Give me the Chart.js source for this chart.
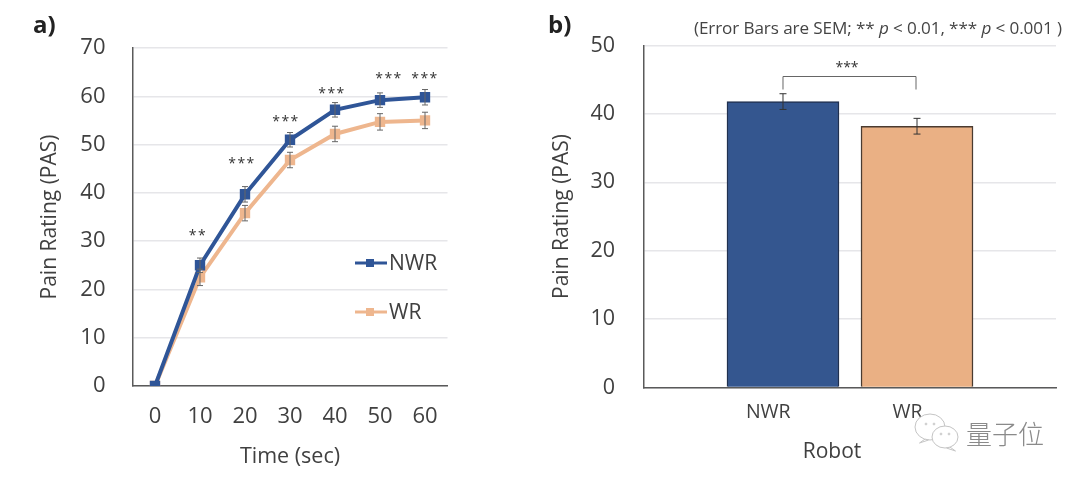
<!DOCTYPE html>
<html>
<head>
<meta charset="utf-8">
<script src="https://cdn.jsdelivr.net/npm/chart.js@4"></script>
<style>
html, body { margin: 0; padding: 0; background: #fff; }
body { width: 1080px; height: 481px; position: relative; overflow: hidden; font-family: "Open Sans", sans-serif; color: #404040; }
canvas { position: absolute; top: 0; }
.txt { position: absolute; white-space: nowrap; }
.panel { font-weight: 700; font-size: 24px; color: #222; line-height: 28px; }
.note { left: 694px; top: 18px; font-size: 17.1px; line-height: 20px; letter-spacing: -0.1px; color: #444; }
.mark { left: 966px; top: 416px; font-family: "Noto Sans CJK SC"; font-weight: 300; font-size: 26px; line-height: 34px; color: #8a8a8a; }
</style>
</head>
<body>
<canvas id="timeChart" width="540" height="481" style="left:0"></canvas>
<canvas id="robotChart" width="540" height="481" style="left:540px"></canvas>
<div class="txt panel" style="left:33px;top:10px">a)</div>
<div class="txt panel" style="left:548px;top:10px">b)</div>
<div class="txt note">(Error Bars are SEM; ** <i>p</i> &lt; 0.01, *** <i>p</i> &lt; 0.001 )</div>
<div class="txt mark">量子位</div>
<script>
const timeLabels = ['0', '10', '20', '30', '40', '50', '60'];
const nwrRatings = [0, 25, 39.7, 51, 57.2, 59.2, 59.8];
const wrRatings = [0, 22.5, 35.8, 46.8, 52.2, 54.7, 55];
const nwrErrors = [0, 1.5, 1.6, 1.5, 1.5, 1.5, 1.6];
const wrErrors = [0, 1.7, 1.6, 1.6, 1.6, 1.7, 1.7];
const starLabels = ['', '**', '***', '***', '***', '***', '***'];
const starHeights = [0, 31.7, 46.6, 55.3, 61.1, 64.2, 64.2];
const starShift = [0, -2, -3, -4, -3, 9, 0];

const robotLabels = ['NWR', 'WR'];
const robotRatings = [41.8, 38.2];
const robotErrors = [1.15, 1.15];
const robotLabelShift = [-0.11, -0.07];

const blue = '#2f5597';
const orange = '#eeb68e';
const axisColor = '#5a5a5a';
const gridColor = '#e6e6e9';
const textColor = '#404040';

function drawErrorBar(ctx, x, yTop, yBottom, cap) {
    ctx.beginPath();
    ctx.moveTo(x, yTop);
    ctx.lineTo(x, yBottom);
    ctx.moveTo(x - cap, yTop);
    ctx.lineTo(x + cap, yTop);
    ctx.moveTo(x - cap, yBottom);
    ctx.lineTo(x + cap, yBottom);
    ctx.stroke();
}

const timeOverlay = {
    id: 'timeOverlay',
    afterDatasetsDraw(chart) {
        const ctx = chart.ctx;
        const xScale = chart.scales.x;
        const yScale = chart.scales.y;
        ctx.save();

        ctx.strokeStyle = '#666';
        ctx.lineWidth = 1;
        [[nwrRatings, nwrErrors], [wrRatings, wrErrors]].forEach(([values, errors]) => {
            values.forEach((v, i) => {
                if (!errors[i]) return;
                drawErrorBar(ctx, xScale.getPixelForValue(i), yScale.getPixelForValue(v + errors[i]), yScale.getPixelForValue(v - errors[i]), 3);
            });
        });

        // significance stars
        ctx.fillStyle = '#333';
        ctx.font = '14px "Open Sans"';
        ctx.textAlign = 'center';
        ctx.textBaseline = 'middle';
        ctx.letterSpacing = '1.5px';
        starLabels.forEach((s, i) => {
            if (s) ctx.fillText(s, xScale.getPixelForValue(i) + starShift[i], yScale.getPixelForValue(starHeights[i]) + 3);
        });
        ctx.letterSpacing = '0px';

        // legend inside the plot
        [['NWR', blue, 263], ['WR', orange, 312]].forEach(([name, color, y]) => {
            ctx.strokeStyle = color;
            ctx.lineWidth = 3;
            ctx.beginPath();
            ctx.moveTo(355, y);
            ctx.lineTo(387, y);
            ctx.stroke();
            ctx.fillStyle = color;
            ctx.fillRect(366, y - 4, 8, 8);
            ctx.fillStyle = textColor;
            ctx.font = '21px "Open Sans"';
            ctx.textAlign = 'left';
            ctx.fillText(name, 389, y + 1);
        });
        ctx.restore();
    }
};

const robotOverlay = {
    id: 'robotOverlay',
    afterDatasetsDraw(chart) {
        const ctx = chart.ctx;
        const xScale = chart.scales.x;
        const yScale = chart.scales.y;
        ctx.save();

        ctx.strokeStyle = '#333';
        ctx.lineWidth = 1;
        robotRatings.forEach((v, i) => {
            drawErrorBar(ctx, xScale.getPixelForValue(i + 1), yScale.getPixelForValue(v + robotErrors[i]), yScale.getPixelForValue(v - robotErrors[i]), 3.5);
        });

        // bracket between the bars
        const x1 = xScale.getPixelForValue(1);
        const x2 = xScale.getPixelForValue(2) - 1;
        ctx.strokeStyle = '#666';
        ctx.beginPath();
        ctx.moveTo(x1, 89.5);
        ctx.lineTo(x1, 76.5);
        ctx.lineTo(x2, 76.5);
        ctx.lineTo(x2, 89.5);
        ctx.stroke();

        ctx.fillStyle = '#333';
        ctx.font = '14px "Open Sans"';
        ctx.textAlign = 'center';
        ctx.textBaseline = 'middle';
        ctx.fillText('***', 307, 68);

        ctx.fillStyle = textColor;
        ctx.font = '21px "Open Sans"';
        ctx.fillText('Robot', 292, 452);

        // wechat bubbles next to the watermark
        ctx.strokeStyle = '#c4c4c4';
        ctx.fillStyle = '#fff';
        ctx.lineWidth = 1;
        [[390, 427, 15, 13, -7], [405, 437, 13, 11, 7]].forEach(([cx, cy, rx, ry, tail]) => {
            ctx.beginPath();
            ctx.ellipse(cx, cy, rx, ry, 0, 0, Math.PI * 2);
            ctx.fill();
            ctx.stroke();
            ctx.beginPath();
            ctx.moveTo(cx + tail * 0.7, cy + ry - 1);
            ctx.lineTo(cx + tail * 1.5, cy + ry + 3);
            ctx.lineTo(cx + tail * 0.2, cy + ry);
            ctx.stroke();
            ctx.beginPath();
            ctx.arc(cx - 4, cy - 3, 0.9, 0, Math.PI * 2);
            ctx.moveTo(cx + 4.9, cy - 3);
            ctx.arc(cx + 4, cy - 3, 0.9, 0, Math.PI * 2);
            ctx.stroke();
        });
        ctx.restore();
    }
};

function ratingAxis(max, plotLeft, padding, titlePad, size) {
    return {
        min: 0,
        max: max,
        afterFit(scale) { scale.width = plotLeft; },
        border: { color: axisColor, width: 1.5 },
        grid: { color: gridColor, lineWidth: 1.5, drawTicks: false },
        ticks: { stepSize: 10, padding: padding, color: textColor, font: { family: 'Open Sans', size: size } },
        title: { display: true, text: 'Pain Rating (PAS)', color: textColor, padding: titlePad, font: { family: 'Open Sans', size: 21 } }
    };
}

new Chart(document.getElementById('timeChart'), {
    type: 'line',
    data: {
        labels: timeLabels,
        datasets: [
            { label: 'NWR', data: nwrRatings, borderColor: blue, backgroundColor: blue, borderWidth: 4, pointStyle: 'rect', pointRadius: 4.5, tension: 0 },
            { label: 'WR', data: wrRatings, borderColor: orange, backgroundColor: orange, borderWidth: 4, pointStyle: 'rect', pointRadius: 4.5, tension: 0 }
        ]
    },
    options: {
        responsive: false,
        animation: false,
        events: [],
        layout: { padding: { top: 48, right: 92.5, left: 0, bottom: 0 } },
        plugins: { legend: { display: false }, tooltip: { enabled: false } },
        scales: {
            x: {
                offset: true,
                afterFit(scale) { scale.height = 95; },
                border: { color: axisColor, width: 1.5 },
                grid: { display: false, drawTicks: false },
                ticks: { padding: 18, color: textColor, font: { family: 'Open Sans', size: 22 } },
                title: { display: true, text: 'Time (sec)', color: textColor, padding: { top: 10, bottom: 11 }, font: { family: 'Open Sans', size: 21.5 } }
            },
            y: ratingAxis(70, 132.5, 27, { top: 37, bottom: 0 }, 22)
        }
    },
    plugins: [timeOverlay]
});

new Chart(document.getElementById('robotChart'), {
    type: 'bar',
    data: {
        datasets: [{
            data: robotRatings.map((v, i) => ({ x: i + 1, y: v })),
            backgroundColor: ['#34568f', '#eab084'],
            borderColor: ['#20304f', '#4a3b30'],
            borderWidth: 1.5,
            barThickness: 112
        }]
    },
    options: {
        responsive: false,
        animation: false,
        events: [],
        layout: { padding: { top: 45.5, right: 24, left: 0, bottom: 0 } },
        plugins: { legend: { display: false }, tooltip: { enabled: false } },
        scales: {
            x: {
                type: 'linear',
                offset: false,
                min: -0.037,
                max: 3.037,
                afterFit(scale) { scale.height = 93.5; },
                afterBuildTicks(scale) { scale.ticks = robotLabels.map((n, i) => ({ value: i + 1 + robotLabelShift[i] })); },
                border: { color: axisColor, width: 1.5 },
                grid: { display: false, drawTicks: false },
                ticks: {
                    padding: 13,
                    color: textColor,
                    font: { family: 'Open Sans', size: 19.5 },
                    autoSkip: false,
                    maxRotation: 0,
                    callback(value, index) { return robotLabels[index]; }
                }
            },
            y: ratingAxis(50, 104, 29, { top: 9, bottom: 0 }, 21.5)
        }
    },
    plugins: [robotOverlay]
});
</script>
</body>
</html>
